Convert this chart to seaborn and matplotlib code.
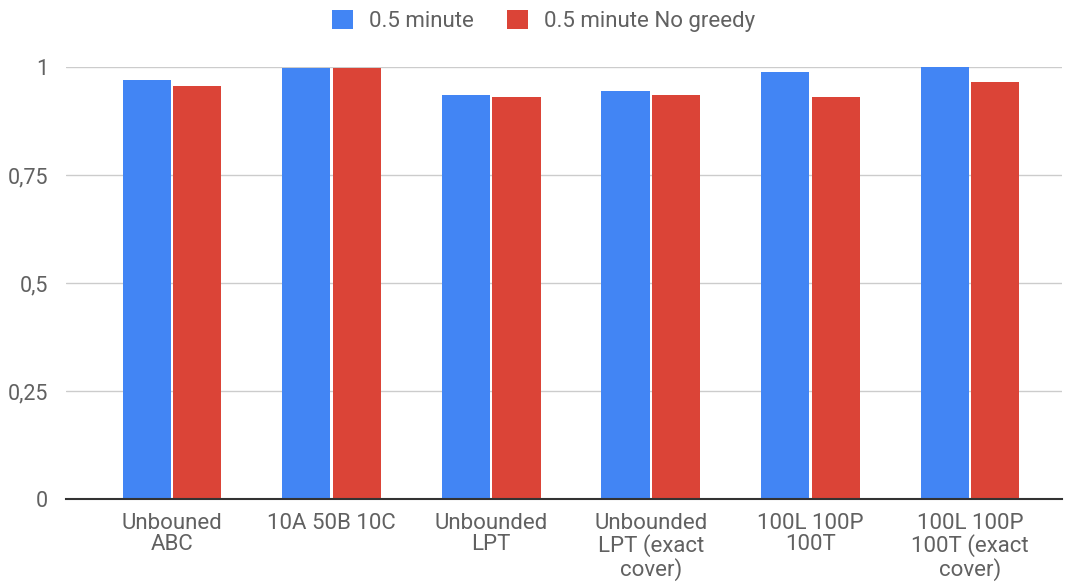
import matplotlib
matplotlib.use("Agg")
import matplotlib.pyplot as plt
from matplotlib.patches import Patch
import pandas as pd
import seaborn as sns

categories = [
    "Unbouned\nABC",
    "10A 50B 10C",
    "Unbounded\nLPT",
    "Unbounded\nLPT (exact\ncover)",
    "100L 100P\n100T",
    "100L 100P\n100T (exact\ncover)",
]
series_names = ["0.5 minute", "0.5 minute No greedy"]
values_greedy = [0.971, 0.997, 0.936, 0.945, 0.988, 1.0]
values_no_greedy = [0.957, 0.997, 0.931, 0.936, 0.931, 0.966]
y_ticks = [0, 0.25, 0.5, 0.75, 1]
y_tick_labels = ["0", "0,25", "0,5", "0,75", "1"]
colors = ["#4285F4", "#DB4437"]

df = pd.DataFrame({
    "category": categories * 2,
    "series": [series_names[0]] * len(categories) + [series_names[1]] * len(categories),
    "value": values_greedy + values_no_greedy,
})

sns.set_theme(style="white")
plt.rcParams["font.family"] = ["Roboto", "DejaVu Sans"]
text_color = "#616161"

fig = plt.figure(figsize=(10.69, 5.84), dpi=100)
ax = fig.add_axes([66 / 1069, 1 - 499 / 584, (1062 - 66) / 1069, (499 - 67) / 584])

sns.barplot(
    data=df, x="category", y="value", hue="series",
    order=categories, hue_order=series_names,
    palette=colors, width=0.635, gap=0.05, saturation=1,
    linewidth=0, legend=False, ax=ax,
)

ax.set_xlim(-0.664, 5.576)
ax.set_ylim(0, 1)
ax.set_yticks(y_ticks)
ax.set_yticklabels(y_tick_labels)
ax.set_xlabel("")
ax.set_ylabel("")
ax.yaxis.grid(True, color="#cccccc", linewidth=1)
ax.set_axisbelow(True)
for side in ["top", "right", "left"]:
    ax.spines[side].set_visible(False)
ax.spines["bottom"].set_color("#333333")
ax.spines["bottom"].set_linewidth(1.5)
ax.spines["bottom"].set_zorder(5)
ax.tick_params(axis="both", length=0, labelcolor=text_color)
ax.tick_params(axis="y", pad=13, labelsize=15.5)
ax.tick_params(axis="x", pad=10, labelsize=16)
for lbl in ax.get_xticklabels():
    lbl.set_linespacing(1.03)

handles = [Patch(facecolor=c, edgecolor="none") for c in colors]
fig.legend(
    handles, series_names, loc="center", bbox_to_anchor=(0.5085, 1 - 21 / 584),
    ncol=2, frameon=False, fontsize=16, labelcolor=text_color,
    handlelength=0.95, handleheight=0.95, handletextpad=0.7, columnspacing=1.5,
)

fig.savefig("out.png", dpi=100, facecolor="white")
